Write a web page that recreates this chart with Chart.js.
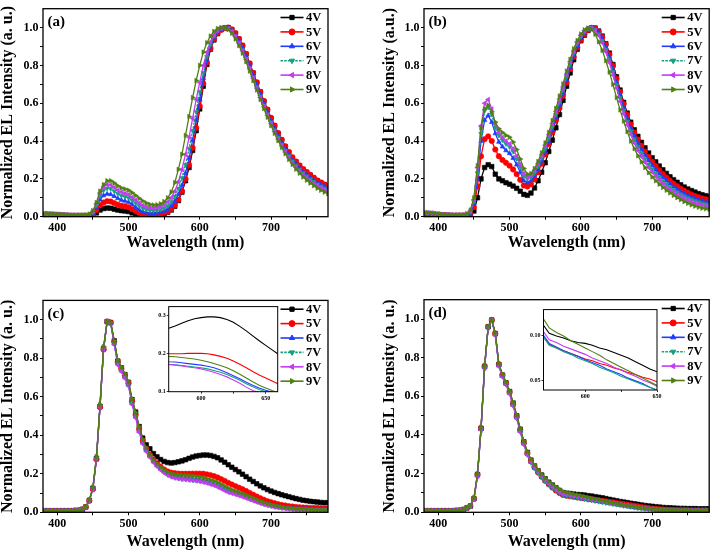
<!DOCTYPE html>
<html><head><meta charset="utf-8">
<script src="https://cdn.jsdelivr.net/npm/chart.js@4.4.1/dist/chart.umd.min.js"></script>
<style>
html,body{margin:0;padding:0;background:#fff;}
#wrap{position:relative;width:713px;height:553px;overflow:hidden;background:#fff;}
canvas{position:absolute;}
</style></head><body><div id="wrap"></div>
<script>
// ---------- DATA ----------
const wavelength = [380,385,390,395,400,405,410,415,420,425,
430,435,440,445,450,455,460,465,470,475,
480,485,490,495,500,505,510,515,520,525,
530,535,540,545,550,555,560,565,570,575,
580,585,590,595,600,605,610,615,620,625,
630,635,640,645,650,655,660,665,670,675,
680,685,690,695,700,705,710,715,720,725,
730,735,740,745,750,755,760,765,770,775,
780];
const seriesLabels = ['4V','5V','6V','7V','8V','9V'];
const xTickValues = [400,450,500,550,600,650,700,750];
const xTickLabels = [400,500,600,700];
const yTickValues = [0,0.1,0.2,0.3,0.4,0.5,0.6,0.7,0.8,0.9,1.0];
const yTickLabels = [0,0.2,0.4,0.6,0.8,1.0];
const insetCxTicks = [600,625,650];
const insetCxLabels = [600,650];
const insetCyTicks = [0.1,0.2,0.3];
const insetDxTicks = [600,625,650];
const insetDxLabels = [600,650];
const insetDyTicks = [0.05,0.10];

// panel (a)
const a4v = [.010,.010,.009,.009,.008,.007,.006,.005,.004,.004,
.003,.003,.003,.004,.008,.020,.035,.043,.046,.045,
.040,.035,.032,.030,.027,.020,.014,.009,.006,.004,
.004,.005,.007,.010,.015,.023,.035,.055,.085,.130,
.190,.260,.350,.455,.570,.690,.805,.885,.935,.968,
.990,.998,1.000,.990,.970,.940,.905,.860,.810,.760,
.710,.660,.610,.565,.520,.480,.440,.405,.370,.340,
.310,.290,.270,.250,.235,.220,.205,.190,.180,.170,
.160];
const a5v = [.012,.012,.011,.010,.009,.008,.007,.006,.005,.005,
.005,.005,.005,.007,.015,.035,.060,.075,.082,.080,
.072,.064,.058,.055,.050,.040,.030,.020,.013,.010,
.009,.010,.012,.015,.020,.028,.040,.060,.090,.135,
.200,.275,.365,.470,.585,.705,.815,.890,.940,.970,
.988,.997,1.000,.990,.970,.940,.905,.860,.810,.760,
.710,.660,.612,.567,.523,.482,.443,.407,.373,.343,
.315,.292,.271,.252,.236,.221,.206,.192,.181,.170,
.160];
const a6v = [.013,.013,.012,.011,.010,.009,.008,.007,.006,.006,
.006,.006,.006,.008,.020,.050,.090,.112,.120,.118,
.108,.097,.088,.083,.077,.065,.050,.037,.027,.021,
.018,.018,.020,.024,.030,.040,.057,.082,.118,.165,
.230,.310,.405,.510,.620,.730,.830,.900,.948,.975,
.992,1.000,.998,.985,.962,.930,.893,.848,.798,.748,
.698,.648,.600,.553,.508,.467,.428,.392,.358,.328,
.300,.278,.257,.238,.222,.207,.193,.180,.169,.159,
.150];
const a7v = [.014,.014,.013,.012,.011,.010,.009,.008,.007,.007,
.007,.007,.007,.010,.024,.060,.110,.140,.150,.148,
.135,.122,.112,.106,.100,.087,.072,.058,.046,.038,
.033,.032,.034,.038,.045,.058,.078,.108,.150,.205,
.275,.360,.455,.555,.660,.760,.845,.910,.955,.983,
.997,1.000,.995,.980,.955,.920,.880,.835,.785,.735,
.685,.635,.588,.542,.498,.457,.418,.382,.349,.320,
.293,.270,.249,.230,.213,.198,.184,.171,.160,.150,
.140];
const a8v = [.016,.016,.015,.014,.013,.012,.010,.009,.008,.008,
.008,.008,.008,.011,.027,.068,.125,.158,.170,.168,
.155,.140,.130,.123,.117,.103,.088,.073,.060,.052,
.047,.046,.048,.053,.062,.078,.100,.135,.185,.250,
.330,.420,.520,.620,.710,.800,.870,.925,.960,.985,
.997,1.000,.995,.978,.952,.918,.878,.832,.782,.732,
.680,.630,.582,.536,.492,.450,.411,.375,.342,.312,
.285,.262,.241,.222,.205,.190,.176,.163,.152,.142,
.132];
const a9v = [.017,.017,.016,.015,.014,.013,.011,.010,.009,.009,
.009,.009,.010,.014,.032,.075,.135,.170,.190,.190,
.178,.163,.152,.146,.140,.127,.112,.097,.083,.072,
.065,.062,.063,.068,.080,.100,.130,.180,.250,.330,
.430,.530,.630,.720,.800,.870,.920,.955,.980,.995,
1.000,1.000,.990,.970,.940,.905,.865,.820,.770,.720,
.670,.620,.572,.526,.482,.441,.402,.366,.333,.303,
.276,.252,.230,.210,.193,.178,.164,.151,.140,.130,
.122];

// panel (b)
const b4v = [.012,.012,.011,.010,.009,.008,.007,.006,.005,.005,
.005,.005,.006,.010,.030,.100,.200,.260,.275,.265,
.225,.200,.190,.180,.172,.162,.150,.135,.118,.113,
.125,.152,.190,.235,.285,.345,.405,.470,.540,.615,
.690,.760,.830,.885,.930,.960,.985,.998,.998,.982,
.955,.915,.865,.805,.740,.670,.605,.548,.500,.460,
.425,.393,.364,.337,.312,.290,.268,.248,.229,.211,
.196,.182,.169,.157,.147,.138,.130,.122,.116,.111,
.107];
const b5v = [.013,.013,.012,.011,.010,.009,.008,.007,.006,.006,
.006,.006,.008,.015,.050,.160,.320,.410,.425,.400,
.355,.320,.300,.285,.270,.250,.225,.195,.165,.160,
.172,.198,.235,.280,.330,.385,.445,.510,.575,.640,
.710,.780,.845,.895,.935,.965,.988,.998,.995,.978,
.950,.910,.858,.797,.730,.660,.596,.538,.488,.445,
.408,.375,.345,.317,.291,.268,.246,.226,.207,.190,
.175,.161,.148,.137,.127,.118,.110,.103,.097,.092,
.088];
const b6v = [.015,.015,.014,.013,.012,.010,.009,.008,.007,.007,
.007,.007,.010,.020,.070,.200,.400,.510,.535,.500,
.440,.395,.370,.350,.335,.310,.275,.235,.190,.180,
.190,.215,.250,.295,.345,.400,.460,.525,.590,.655,
.725,.790,.855,.905,.945,.972,.992,1.000,.993,.972,
.940,.897,.843,.780,.712,.643,.578,.520,.470,.427,
.388,.355,.325,.297,.271,.248,.227,.208,.190,.174,
.159,.146,.134,.123,.113,.104,.096,.089,.083,.078,
.074];
const b7v = [.018,.018,.017,.015,.013,.011,.010,.009,.008,.008,
.008,.008,.012,.025,.080,.230,.440,.560,.580,.540,
.470,.430,.405,.385,.370,.345,.305,.262,.215,.200,
.208,.232,.267,.310,.360,.415,.475,.540,.605,.670,
.740,.805,.865,.915,.953,.978,.995,1.000,.990,.965,
.930,.885,.830,.765,.697,.628,.562,.503,.452,.408,
.368,.335,.305,.277,.252,.229,.208,.189,.172,.156,
.142,.129,.118,.108,.099,.091,.084,.077,.071,.066,
.062];
const b8v = [.022,.022,.020,.018,.015,.012,.011,.010,.009,.009,
.009,.009,.014,.030,.090,.260,.480,.600,.620,.570,
.490,.445,.420,.400,.385,.360,.320,.277,.228,.210,
.218,.245,.282,.327,.378,.433,.493,.557,.622,.686,
.755,.820,.877,.924,.960,.983,.997,.998,.985,.958,
.920,.872,.815,.750,.680,.610,.545,.486,.435,.390,
.350,.317,.287,.260,.235,.213,.193,.175,.158,.143,
.130,.118,.107,.097,.088,.080,.073,.067,.062,.057,
.053];
const b9v = [.022,.022,.020,.018,.015,.012,.011,.010,.009,.009,
.009,.010,.016,.035,.100,.270,.470,.570,.590,.555,
.500,.465,.445,.430,.420,.395,.355,.305,.255,.225,
.228,.255,.292,.338,.390,.446,.508,.573,.638,.702,
.770,.832,.888,.932,.966,.988,.998,.990,.965,.925,
.880,.825,.765,.700,.630,.565,.505,.450,.400,.360,
.322,.290,.260,.233,.210,.190,.172,.155,.140,.126,
.113,.101,.090,.080,.071,.063,.056,.050,.045,.042,
.040];

// panel (c)
const c4v = [.008,.008,.008,.008,.008,.008,.008,.008,.008,.009,
.010,.015,.028,.062,.125,.280,.550,.850,.990,.985,
.890,.785,.750,.715,.675,.585,.520,.445,.385,.350,
.330,.305,.288,.274,.264,.258,.256,.258,.262,.267,
.273,.280,.287,.292,.295,.297,.297,.295,.290,.283,
.272,.260,.247,.234,.222,.210,.198,.185,.172,.160,
.148,.137,.127,.118,.110,.103,.097,.091,.086,.081,
.076,.071,.067,.063,.060,.057,.055,.053,.051,.050,
.050];
const c5v = [.008,.008,.008,.008,.008,.008,.008,.008,.008,.009,
.010,.015,.026,.060,.120,.275,.545,.845,.990,.985,
.885,.780,.745,.710,.670,.575,.505,.430,.370,.330,
.300,.275,.255,.237,.222,.212,.206,.203,.201,.200,
.200,.200,.201,.201,.201,.200,.197,.193,.188,.181,
.172,.163,.153,.144,.136,.128,.120,.111,.101,.091,
.082,.073,.065,.058,.052,.047,.042,.038,.035,.032,
.030,.028,.026,.025,.024,.023,.022,.022,.021,.021,
.020];
const c6v = [.008,.008,.008,.008,.008,.008,.008,.008,.008,.009,
.010,.015,.027,.062,.125,.280,.550,.850,.990,.980,
.875,.775,.740,.705,.665,.570,.500,.425,.365,.325,
.295,.268,.247,.228,.212,.200,.192,.186,.182,.179,
.178,.176,.174,.172,.170,.167,.163,.157,.150,.142,
.134,.125,.117,.110,.104,.099,.093,.086,.078,.069,
.061,.054,.047,.042,.037,.033,.029,.026,.024,.022,
.020,.019,.018,.017,.016,.016,.015,.015,.015,.015,
.015];
const c7v = [.008,.008,.008,.008,.008,.008,.008,.008,.008,.009,
.010,.015,.027,.062,.125,.280,.550,.850,.990,.980,
.875,.770,.735,.700,.660,.565,.495,.420,.360,.320,
.290,.263,.242,.223,.207,.195,.186,.180,.176,.172,
.171,.169,.167,.165,.163,.160,.156,.151,.145,.138,
.130,.121,.113,.106,.100,.094,.088,.081,.073,.065,
.057,.050,.044,.039,.034,.030,.027,.024,.022,.020,
.018,.017,.016,.015,.014,.014,.013,.013,.013,.012,
.012];
const c8v = [.008,.008,.008,.008,.008,.008,.008,.008,.008,.009,
.010,.015,.027,.060,.120,.275,.545,.845,.990,.980,
.870,.765,.730,.695,.655,.560,.490,.415,.355,.315,
.285,.258,.238,.220,.205,.193,.184,.178,.175,.172,
.170,.168,.165,.163,.160,.156,.151,.145,.139,.131,
.122,.112,.103,.098,.092,.086,.080,.073,.066,.059,
.052,.046,.040,.035,.031,.027,.024,.021,.019,.017,
.015,.014,.013,.012,.012,.011,.011,.011,.010,.010,
.010];
const c9v = [.008,.008,.008,.008,.008,.008,.008,.008,.008,.009,
.010,.015,.028,.065,.130,.290,.560,.860,.990,.985,
.890,.790,.755,.720,.680,.590,.520,.445,.380,.335,
.300,.272,.252,.235,.220,.209,.201,.197,.195,.193,
.192,.190,.188,.186,.183,.179,.174,.169,.163,.155,
.146,.136,.126,.117,.110,.103,.097,.090,.082,.074,
.066,.058,.051,.045,.040,.035,.031,.028,.025,.022,
.020,.018,.017,.016,.015,.014,.013,.013,.012,.012,
.012];

// panel (d)
const d4v = [.008,.008,.008,.008,.008,.008,.008,.008,.008,.009,
.010,.014,.022,.032,.070,.195,.435,.755,.960,.995,
.925,.765,.710,.670,.625,.565,.500,.430,.365,.310,
.270,.240,.215,.193,.173,.156,.141,.127,.113,.102,
.099,.097,.094,.092,.091,.089,.086,.084,.081,.078,
.075,.071,.067,.063,.060,.056,.053,.050,.047,.044,
.041,.038,.035,.033,.031,.029,.027,.025,.024,.023,
.022,.021,.020,.020,.019,.019,.019,.018,.018,.018,
.018];
const d5v = [.008,.008,.008,.008,.008,.008,.008,.008,.008,.009,
.010,.014,.022,.032,.070,.195,.435,.755,.960,.995,
.925,.765,.710,.668,.622,.560,.495,.425,.360,.305,
.265,.233,.207,.184,.163,.145,.128,.113,.100,.090,
.086,.083,.080,.077,.074,.072,.069,.067,.064,.062,
.059,.057,.054,.052,.049,.046,.043,.040,.037,.034,
.031,.028,.025,.022,.020,.018,.016,.015,.014,.013,
.012,.012,.011,.011,.011,.010,.010,.010,.010,.010,
.010];
const d6v = [.008,.008,.008,.008,.008,.008,.008,.008,.008,.009,
.010,.014,.022,.032,.068,.190,.430,.750,.958,.995,
.920,.760,.705,.665,.618,.555,.490,.420,.355,.300,
.260,.230,.205,.182,.162,.145,.129,.115,.102,.091,
.087,.083,.080,.077,.073,.070,.067,.063,.060,.057,
.053,.050,.047,.043,.040,.037,.034,.031,.028,.025,
.023,.021,.019,.017,.015,.014,.013,.012,.011,.011,
.010,.010,.010,.010,.010,.009,.009,.009,.009,.009,
.009];
const d7v = [.008,.008,.008,.008,.008,.008,.008,.008,.008,.009,
.010,.014,.022,.032,.068,.190,.430,.750,.958,.995,
.918,.758,.702,.662,.615,.552,.487,.417,.352,.297,
.257,.227,.202,.180,.160,.143,.127,.113,.100,.089,
.086,.082,.079,.075,.072,.069,.065,.062,.059,.055,
.052,.049,.046,.043,.040,.037,.034,.031,.028,.025,
.022,.020,.018,.016,.015,.014,.013,.012,.011,.010,
.010,.010,.009,.009,.009,.009,.009,.009,.009,.009,
.009];
const d8v = [.008,.008,.008,.008,.008,.008,.008,.008,.008,.009,
.010,.014,.022,.032,.066,.185,.425,.745,.955,.995,
.915,.755,.700,.660,.612,.550,.485,.415,.350,.298,
.262,.235,.210,.188,.168,.150,.134,.120,.106,.095,
.092,.088,.085,.082,.079,.075,.072,.069,.065,.062,
.058,.055,.051,.048,.044,.041,.038,.035,.032,.029,
.026,.023,.021,.019,.017,.015,.014,.013,.012,.011,
.011,.010,.010,.010,.010,.010,.010,.010,.010,.010,
.010];
const d9v = [.008,.008,.008,.008,.008,.008,.008,.008,.008,.009,
.010,.015,.025,.035,.075,.200,.440,.760,.960,.995,
.930,.770,.715,.675,.630,.570,.505,.435,.370,.315,
.275,.245,.220,.197,.177,.160,.145,.132,.120,.108,
.103,.099,.094,.090,.086,.082,.078,.073,.069,.065,
.061,.057,.053,.049,.045,.042,.038,.035,.032,.029,
.026,.023,.021,.019,.017,.016,.015,.014,.013,.012,
.012,.011,.011,.011,.010,.010,.010,.010,.010,.010,
.010];

// ---------- STYLE ----------
const FONT = "'Liberation Serif','Times New Roman',serif";
const colors = ['#000000','#ff0000','#1f3cff','#12a07e','#c23cf2','#4f8010'];
const pointStyles = ['rect','circle','triangle','triangle','triangle','triangle'];
const pointRotations = [0,0,0,180,270,90];
const dashes = [[],[],[],[2.5,1.2],[],[]];

const wrap = document.getElementById('wrap');
function makeCanvas(l,t,w,h){
  const c = document.createElement('canvas');
  c.width = w; c.height = h;
  c.style.left = l+'px'; c.style.top = t+'px';
  c.style.width = w+'px'; c.style.height = h+'px';
  wrap.appendChild(c);
  return c;
}

function drawLegend(chart){
  const {ctx, chartArea:a} = chart;
  chart.data.datasets.forEach((ds,i)=>{
    const y = a.top + 8.8 + i*14.4;
    const x1 = a.right - 24.5, x0 = x1 - 23;
    ctx.save();
    ctx.strokeStyle = ds.borderColor; ctx.lineWidth = 1.6;
    ctx.setLineDash(ds.borderDash || []);
    ctx.beginPath(); ctx.moveTo(x0,y); ctx.lineTo(x1,y); ctx.stroke();
    ctx.setLineDash([]);
    ctx.fillStyle = ds.borderColor; ctx.strokeStyle = ds.borderColor; ctx.lineWidth = 1;
    Chart.helpers.drawPoint(ctx, {pointStyle: ds.pointStyle, rotation: ds.pointRotation, radius: 3, borderWidth: 1}, (x0+x1)/2, y);
    ctx.fillStyle = '#000';
    ctx.font = 'bold 12.5px ' + FONT;
    ctx.textBaseline = 'middle'; ctx.textAlign = 'left';
    ctx.fillText(ds.label, x1 + 2.5, y + 0.5);
    ctx.restore();
  });
}

const framePlugin = {
  id: 'frame',
  beforeDatasetsDraw(chart, args, opts){
    if (opts.bg){
      const {ctx, chartArea:a} = chart;
      ctx.save(); ctx.fillStyle = '#fff';
      ctx.fillRect(a.left, a.top, a.right-a.left, a.bottom-a.top); ctx.restore();
    }
  },
  afterDatasetsDraw(chart, args, opts){
    const {ctx, chartArea:a} = chart;
    ctx.save();
    ctx.strokeStyle = '#000'; ctx.lineWidth = opts.lw || 1.3;
    ctx.strokeRect(a.left, a.top, a.right-a.left, a.bottom-a.top);
    if (opts.label){
      ctx.fillStyle = '#000'; ctx.font = 'bold 15px ' + FONT;
      ctx.textBaseline = 'middle'; ctx.textAlign = 'left';
      ctx.fillText(opts.label, a.left + 4.5, a.top + 13.8);
    }
    ctx.restore();
    if (opts.legend) drawLegend(chart);
  }
};

function makeDatasets(arrays, inset){
  return arrays.map((arr,i)=>({
    label: seriesLabels[i],
    data: wavelength.map((w,j)=>({x:w, y:arr[j]})),
    borderColor: colors[i],
    backgroundColor: colors[i],
    borderWidth: inset ? 1.1 : 1.3,
    borderDash: inset ? [] : dashes[i],
    pointRadius: inset ? 0 : (i === 0 ? 3.2 : 2.7),
    pointStyle: pointStyles[i],
    pointRotation: pointRotations[i],
    pointBorderWidth: 0.6,
    pointBackgroundColor: colors[i],
    pointBorderColor: colors[i],
    pointHoverRadius: 0,
    tension: 0,
    order: 5 - i
  }));
}

function mainChart(p){
  const [cl,ct,cw,ch] = p.rect;
  const [al,at,ar,ab] = p.area;
  const padLeft = p.yTitleX - 8 - cl;
  const yWidth = al - cl - padLeft;
  const padTop = at - ct;
  const padRight = cl + cw - ar;
  const xHeight = ct + ch - ab;
  const titlePB = ct + ch - p.xTitleY - 8;
  const tickFont = {family: FONT, size: 12, weight: 'bold'};
  const titleFont = {family: FONT, size: 16, weight: 'bold', lineHeight: 1};
  new Chart(makeCanvas(cl,ct,cw,ch), {
    type: 'line',
    data: {datasets: makeDatasets(p.series, false)},
    plugins: [framePlugin],
    options: {
      responsive: false, animation: false, devicePixelRatio: 1, events: [],
      layout: {padding: {left: padLeft, top: padTop, right: padRight, bottom: 0}},
      plugins: {legend: {display: false}, tooltip: {enabled: false},
        frame: {label: p.label, legend: true, lw: 1.3}},
      scales: {
        x: {
          type: 'linear', min: 380, max: 780,
          afterBuildTicks: s => { s.ticks = xTickValues.map(v => ({value: v})); },
          afterFit: s => { s.height = xHeight; },
          ticks: {autoSkip: false, maxRotation: 0, padding: 1, color: '#000', font: tickFont,
            callback: v => xTickLabels.includes(v) ? String(v) : ''},
          grid: {display: true, drawOnChartArea: false, drawTicks: true, tickLength: 3, color: '#000', lineWidth: 1},
          border: {display: false},
          title: {display: true, text: 'Wavelength (nm)', color: '#000', font: titleFont, padding: {top: 0, bottom: titlePB}}
        },
        y: {
          type: 'linear', min: 0, max: 1.1,
          afterBuildTicks: s => { s.ticks = yTickValues.map(v => ({value: v})); },
          afterFit: s => { s.width = yWidth; },
          ticks: {autoSkip: false, padding: 1.5, color: '#000', font: tickFont,
            callback: v => yTickLabels.some(t => Math.abs(t - v) < 1e-6) ? v.toFixed(1) : ''},
          grid: {display: true, drawOnChartArea: false, drawTicks: true, tickLength: 3, color: '#000', lineWidth: 1},
          border: {display: false},
          title: {display: true, text: p.ytitle, color: '#000', font: titleFont, padding: {top: 0, bottom: 0}}
        }
      }
    }
  });
}

function insetChart(p){
  const [cl,ct,cw,ch] = p.rect;
  const [al,at,ar,ab] = p.area;
  const yWidth = al - cl;
  const tickFont = {family: FONT, size: 6, weight: 'bold'};
  new Chart(makeCanvas(cl,ct,cw,ch), {
    type: 'line',
    data: {datasets: makeDatasets(p.series, true)},
    plugins: [framePlugin],
    options: {
      responsive: false, animation: false, devicePixelRatio: 1, events: [],
      layout: {padding: {left: 0, top: at - ct, right: cl + cw - ar, bottom: 0}},
      plugins: {legend: {display: false}, tooltip: {enabled: false}, frame: {bg: true, lw: 1}},
      scales: {
        x: {
          type: 'linear', min: p.xmin, max: p.xmax,
          afterBuildTicks: s => { s.ticks = p.xTicks.map(v => ({value: v})); },
          afterFit: s => { s.height = ct + ch - ab; },
          ticks: {autoSkip: false, maxRotation: 0, padding: 1, color: '#000', font: tickFont,
            callback: v => p.xLabels.includes(v) ? String(v) : ''},
          grid: {display: true, drawOnChartArea: false, drawTicks: true, tickLength: 2, color: '#000', lineWidth: 0.8},
          border: {display: false}
        },
        y: {
          type: 'linear', min: p.ymin, max: p.ymax,
          afterBuildTicks: s => { s.ticks = p.yTicks.map(v => ({value: v})); },
          afterFit: s => { s.width = yWidth; },
          ticks: {autoSkip: false, padding: 1, color: '#000', font: tickFont,
            callback: v => v.toFixed(p.yDec)},
          grid: {display: true, drawOnChartArea: false, drawTicks: true, tickLength: 2, color: '#000', lineWidth: 0.8},
          border: {display: false}
        }
      }
    }
  });
}

mainChart({rect:[0,0,356,276], area:[43,4.7,328,216.7], yTitleX:8.3, xTitleY:242.7, label:'(a)',
  ytitle:'Normalized EL Intensity (a. u.)', series:[a4v,a5v,a6v,a7v,a8v,a9v]});
mainChart({rect:[356,0,357,276], area:[424,4.2,710,216.7], yTitleX:390, xTitleY:243, label:'(b)',
  ytitle:'Normalized EL Intensity (a.u.)', series:[b4v,b5v,b6v,b7v,b8v,b9v]});
mainChart({rect:[0,276,356,277], area:[43,300.4,328,512.3], yTitleX:8.3, xTitleY:541.7, label:'(c)',
  ytitle:'Normalized EL Intensity (a. u.)', series:[c4v,c5v,c6v,c7v,c8v,c9v]});
mainChart({rect:[356,276,357,277], area:[424,299.7,710,512.3], yTitleX:390, xTitleY:541.7, label:'(d)',
  ytitle:'Normalized EL Intensity (a. u.)', series:[d4v,d5v,d6v,d7v,d8v,d9v]});

insetChart({rect:[148,302,134,102], area:[168.7,305.7,277.7,391.7], xmin:575, xmax:659.3, ymin:0.1, ymax:0.324,
  xTicks: insetCxTicks, xLabels: insetCxLabels, yTicks: insetCyTicks, yDec: 1, series:[c4v,c5v,c6v,c7v,c8v,c9v]});
insetChart({rect:[522,305,142,99], area:[543.5,309.3,657,390], xmin:571, xmax:650, ymin:0.04, ymax:0.128,
  xTicks: insetDxTicks, xLabels: insetDxLabels, yTicks: insetDyTicks, yDec: 2, series:[d4v,d5v,d6v,d7v,d8v,d9v]});
</script>
</body></html>
